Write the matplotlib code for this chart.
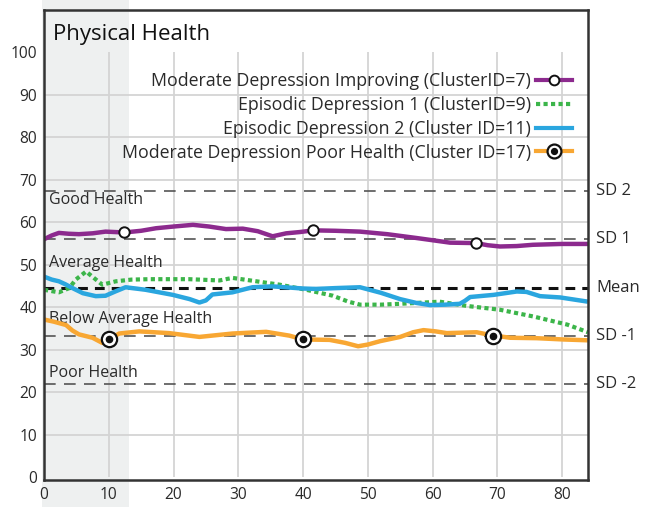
import matplotlib
matplotlib.use("Agg")
import matplotlib.pyplot as plt
from matplotlib.patches import Rectangle
from matplotlib.lines import Line2D
from matplotlib.transforms import blended_transform_factory

plt.rcParams['font.family'] = ['Open Sans', 'DejaVu Sans']

# ---------------- data ----------------
title = "Physical Health"
x_ticks = [0, 10, 20, 30, 40, 50, 60, 70, 80]
y_ticks = [0, 10, 20, 30, 40, 50, 60, 70, 80, 90, 100]

ref_values = [67.4, 56.0, 44.6, 33.2, 21.8]
ref_labels = ["SD 2", "SD 1", "Mean", "SD -1", "SD -2"]

band_labels = ["Good Health", "Average Health", "Below Average Health", "Poor Health"]
band_label_y = [65.3, 50.5, 37.3, 24.4]

shade_x = [-0.3, 13.2]

series_names = ["Moderate Depression Improving (ClusterID=7)",
                "Episodic Depression 1 (ClusterID=9)",
                "Episodic Depression 2 (Cluster ID=11)",
                "Moderate Depression Poor Health (Cluster ID=17)"]

purple_x = [0, 1.2, 2.3, 3.8, 5.4, 7.5, 9.5, 12.4, 15.0, 17.3, 20.0, 23.0, 25.5, 28.1, 30.7, 33.0, 35.3, 37.4, 39.5, 41.6, 45.0, 48.8, 53.0, 57.5, 62.7, 66.7, 68.5, 70.4, 73.0, 75.5, 80.0, 84]
purple_y = [56.0, 56.9, 57.5, 57.3, 57.2, 57.4, 57.8, 57.6, 58.0, 58.6, 59.0, 59.4, 59.0, 58.4, 58.5, 57.9, 56.7, 57.4, 57.7, 58.1, 58.0, 57.8, 57.2, 56.3, 55.2, 55.1, 54.6, 54.3, 54.4, 54.7, 54.9, 54.9]
purple_mx = [12.4, 41.6, 66.7]
purple_my = [57.6, 58.1, 55.1]

green_x = [0, 2.3, 3.9, 4.9, 6.5, 7.7, 9.0, 11.1, 13.5, 16.3, 22.4, 27.1, 29.1, 32.8, 36.4, 40.5, 44.6, 47.0, 48.8, 52.0, 55.0, 61.1, 65.3, 70.4, 75.6, 80.8, 84]
green_y = [44.1, 43.5, 44.5, 46.5, 48.4, 46.9, 45.3, 46.1, 46.5, 46.6, 46.6, 46.3, 46.9, 46.1, 45.3, 44.1, 42.7, 41.3, 40.6, 40.6, 40.8, 41.3, 40.3, 39.4, 37.8, 35.9, 34.1]

blue_x = [0, 1.2, 2.3, 3.3, 4.4, 6.0, 8.0, 9.5, 11.0, 12.6, 15.7, 19.9, 22.5, 24.0, 25.0, 26.0, 29.1, 32.2, 35.3, 40.0, 42.0, 45.0, 48.8, 52.0, 55.0, 57.5, 59.6, 62.0, 64.2, 65.0, 65.8, 69.4, 73.0, 74.5, 76.6, 79.7, 84]
blue_y = [47.2, 46.5, 46.1, 45.4, 44.5, 43.3, 42.6, 42.7, 43.7, 44.7, 44.1, 42.9, 41.9, 41.1, 41.6, 43.0, 43.5, 44.7, 44.9, 44.4, 44.3, 44.5, 44.7, 43.4, 41.9, 41.0, 40.5, 40.6, 40.8, 41.5, 42.4, 42.9, 43.7, 43.6, 42.6, 42.3, 41.3]

orange_x = [0, 1.5, 3.4, 4.4, 5.4, 7.5, 9.0, 10.1, 11.6, 14.7, 19.3, 24.0, 29.1, 34.3, 37.9, 40.0, 44.1, 46.5, 48.5, 50.0, 51.9, 55.0, 57.0, 58.6, 60.5, 62.2, 66.8, 69.1, 72.0, 76.1, 80.2, 84]
orange_y = [37.1, 36.6, 35.8, 34.5, 33.6, 32.8, 31.6, 32.4, 33.8, 34.3, 33.9, 33.0, 33.8, 34.2, 33.3, 32.4, 32.3, 31.6, 30.8, 31.2, 32.0, 33.0, 34.1, 34.6, 34.3, 33.9, 34.1, 33.4, 32.8, 32.7, 32.4, 32.2]
orange_mx = [10.1, 40.0, 69.3]
orange_my = [32.4, 32.4, 33.3]

# ---------------- styles ----------------
c_purple = "#8c2a8e"
c_green = "#3cb54a"
c_blue = "#2aa6df"
c_orange = "#f8a733"
c_grid = "#d4d4d4"
c_text = "#2a2a2a"
c_frame = "#333333"

fig = plt.figure(figsize=(6.56, 5.07), dpi=100)
fig.patch.set_facecolor("white")
ax = fig.add_axes([44/656, 27/507, 544/656, 470/507])
ax.set_facecolor("none")
ax.set_xlim(0, 84)
ax.set_ylim(-0.7, 110)

# shaded region spanning the whole figure height
rect = Rectangle((shade_x[0], 0), shade_x[1] - shade_x[0], 1,
                 transform=blended_transform_factory(ax.transData, fig.transFigure),
                 facecolor="#eef0f0", edgecolor="none", zorder=-5)
fig.add_artist(rect)

# grid
for yv in y_ticks[1:-1]:
    ax.axhline(yv, color=c_grid, lw=1.3, zorder=1)
ax.vlines(x_ticks[1:], 0, 100, color=c_grid, lw=1.3, zorder=1)

# reference lines
ytrans = blended_transform_factory(ax.transAxes, ax.transData)
for v, lab in zip(ref_values, ref_labels):
    if lab == "Mean":
        ax.axhline(v, color="#111111", lw=2.2, dashes=(3.2, 2.3), zorder=2)
    else:
        ax.axhline(v, color="#555555", lw=1.2, dashes=(7, 5), zorder=2)
    ax.text(1.015, v, lab, transform=ytrans, ha="left", va="center",
            fontsize=12, color=c_text, clip_on=False)

for lab, yv in zip(band_labels, band_label_y):
    ax.text(0.8, yv, lab, ha="left", va="center", fontsize=11.5, color=c_text, zorder=3)

ax.text(1.4, 104.2, title, ha="left", va="center", fontsize=16, color="#111111")

# series
ax.plot(purple_x, purple_y, color=c_purple, lw=3.2, zorder=4, solid_capstyle="butt")
ax.plot(purple_mx, purple_my, ls="none", marker="o", ms=7.5, mfc="white",
        mec="#111111", mew=1.4, zorder=6)
ax.plot(green_x, green_y, color=c_green, lw=3, dashes=(1, 0.8), zorder=4,
        dash_capstyle="butt")
ax.plot(blue_x, blue_y, color=c_blue, lw=3.2, zorder=4, solid_capstyle="butt")
ax.plot(orange_x, orange_y, color=c_orange, lw=3.2, zorder=4, solid_capstyle="butt")
ax.plot(orange_mx, orange_my, ls="none", marker="o", ms=11, mfc="white",
        mec="#111111", mew=1.6, zorder=6)
ax.plot(orange_mx, orange_my, ls="none", marker="o", ms=4.5, mfc="#111111",
        mec="#111111", zorder=7)

# legend
h1 = Line2D([], [], color=c_purple, lw=3, marker="o", ms=7, mfc="white",
            mec="#111111", mew=1.4)
h2 = Line2D([], [], color=c_green, lw=3, dashes=(1, 0.8))
h3 = Line2D([], [], color=c_blue, lw=3)
h4a = Line2D([], [], color=c_orange, lw=3, marker="o", ms=10, mfc="white",
             mec="#111111", mew=1.6)
h4b = Line2D([], [], ls="none", marker="o", ms=4.2, mfc="#111111", mec="#111111")
leg = ax.legend([h1, h2, h3, (h4a, h4b)], series_names, loc="upper right",
                bbox_to_anchor=(0.9706, 0.868), frameon=False, markerfirst=False,
                fontsize=12.8, handlelength=2.0, handletextpad=0.3, labelspacing=0.33,
                borderpad=0, borderaxespad=0, labelcolor=c_text)

# axes styling
ax.set_xticks(x_ticks)
ax.set_yticks(y_ticks)
ax.tick_params(length=0, labelsize=11.2, colors=c_text, pad=5)
for s in ["left", "bottom", "top", "right"]:
    ax.spines[s].set_color(c_frame)
    ax.spines[s].set_linewidth(1.8)
    ax.spines[s].set_zorder(8)

fig.savefig("out.png", dpi=100)
